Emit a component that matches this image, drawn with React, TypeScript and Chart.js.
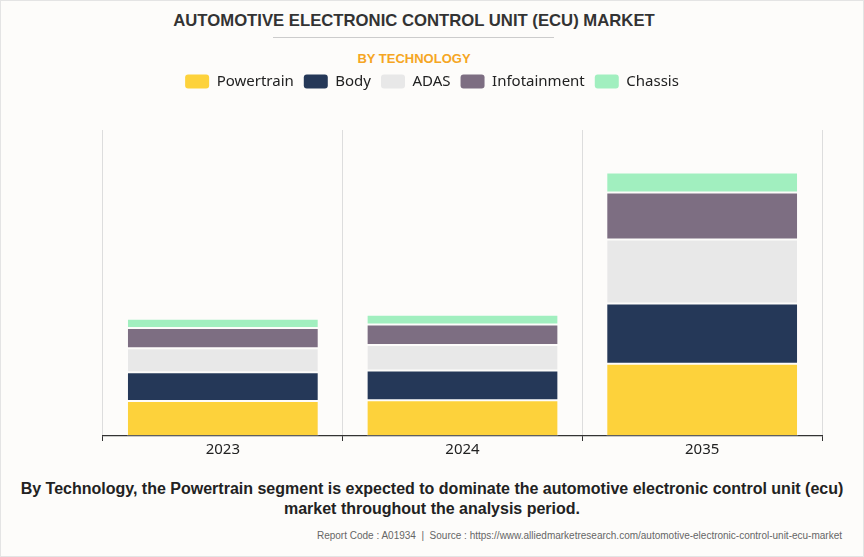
import React, { useEffect, useRef } from "react";
import { Chart, registerables } from "chart.js";

Chart.register(...registerables);

const categories = ["2023", "2024", "2035"];
const segments = ["Powertrain", "Body", "ADAS", "Infotainment", "Chassis"];
const powertrain = [11.4, 11.7, 23.6];
const body = [9.4, 9.7, 19.7];
const adas = [7.9, 8.3, 20.9];
const infotainment = [6.6, 6.7, 15.4];
const chassis = [3.0, 3.2, 6.5];
const colors = ["#fdd23b", "#253858", "#e8e8e8", "#7d6e82", "#a1efbf"];
const yMax = 100;

const TITLE = "AUTOMOTIVE ELECTRONIC CONTROL UNIT (ECU) MARKET";
const SUBTITLE = "BY TECHNOLOGY";
const FOOTNOTE =
  "By Technology, the Powertrain segment is expected to dominate the automotive electronic control unit (ecu) market throughout the analysis period.";
const SOURCE =
  "Report Code : A01934  |  Source : https://www.alliedmarketresearch.com/automotive-electronic-control-unit-ecu-market";

export default function App() {
  const ref = useRef<HTMLCanvasElement | null>(null);

  useEffect(() => {
    if (!ref.current) return;
    const series = [powertrain, body, adas, infotainment, chassis];
    const legendGap = {
      id: "legendGap",
      beforeInit(chart: any) {
        const orig = chart.legend.fit;
        chart.legend.fit = function () {
          orig.call(this);
          this.height += 31;
        };
      },
    };
    const chart = new Chart(ref.current, {
      type: "bar",
      data: {
        labels: categories,
        datasets: segments.map((name, i) => ({
          label: name,
          data: series[i],
          backgroundColor: colors[i],
          borderColor: "rgba(255,255,255,0.22)",
          borderWidth: 1,
          borderSkipped: false,
          categoryPercentage: 1,
          barPercentage: 0.8,
          yAxisID: "y",
        })),
      },
      options: {
        animation: false,
        responsive: true,
        maintainAspectRatio: false,
        layout: { padding: 0 },
        plugins: {
          tooltip: { enabled: false },
          legend: {
            position: "top",
            labels: {
              boxWidth: 24,
              boxHeight: 14,
              useBorderRadius: true,
              borderRadius: 3,
              padding: 10,
              color: "#222",
              font: { family: "'Noto Sans', sans-serif", size: 15 },
              generateLabels: (c: any) =>
                Chart.defaults.plugins.legend.labels
                  .generateLabels(c)
                  .map((l: any) => ({ ...l, lineWidth: 0, strokeStyle: "transparent" })),
            },
          },
        },
        scales: {
          x: {
            stacked: true,
            offset: true,
            grid: {
              display: true,
              color: "#dddddd",
              lineWidth: 1,
              tickColor: "#333",
              tickLength: 5,
              offset: true,
            },
            border: { display: true, color: "#333", width: 1.2 },
            ticks: {
              color: "#222",
              padding: 0,
              font: { family: "'Noto Sans', sans-serif", size: 15 },
            },
          },
          y: {
            stacked: true,
            min: 0,
            max: yMax,
            position: "left",
            grid: { display: false },
            border: { display: false },
            ticks: { display: false },
            afterFit: (axis: any) => {
              axis.width = 102;
            },
          },
          yR: {
            type: "linear",
            position: "right",
            grid: { display: false },
            border: { display: false },
            ticks: { display: false },
            afterFit: (axis: any) => {
              axis.width = 41;
            },
          },
        },
      } as any,
      plugins: [legendGap],
    });
    return () => chart.destroy();
  }, []);

  return (
    <div
      style={{
        position: "fixed",
        left: 0,
        top: 0,
        width: 864,
        height: 557,
        boxSizing: "border-box",
        border: "1px solid #e4e4e4",
        background: "#fdfcfa",
        fontFamily: "'Liberation Sans', Arial, sans-serif",
        overflow: "hidden",
      }}
    >
      <div
        style={{
          position: "absolute",
          left: 0,
          width: 826,
          top: 10,
          textAlign: "center",
          fontWeight: "bold",
          fontSize: 16.7,
          color: "#333",
          lineHeight: "20px",
        }}
      >
        {TITLE}
      </div>
      <div
        style={{
          position: "absolute",
          left: 272,
          width: 281,
          top: 36,
          height: 1,
          background: "#cccccc",
        }}
      />
      <div
        style={{
          position: "absolute",
          left: 0,
          width: 826,
          top: 50,
          textAlign: "center",
          fontWeight: "bold",
          fontSize: 13,
          color: "#f5a623",
          lineHeight: "16px",
        }}
      >
        {SUBTITLE}
      </div>
      <div style={{ position: "absolute", left: 0, top: 63, width: 862, height: 395 }}>
        <canvas ref={ref} />
      </div>
      <div
        style={{
          position: "absolute",
          left: 14,
          width: 834,
          top: 478,
          textAlign: "center",
          fontWeight: "bold",
          fontSize: 16,
          color: "#222",
          lineHeight: "20px",
        }}
      >
        {FOOTNOTE}
      </div>
      <div
        style={{
          position: "absolute",
          right: 21,
          top: 529,
          fontSize: 10,
          color: "#666",
          whiteSpace: "pre",
          lineHeight: "12px",
        }}
      >
        {SOURCE}
      </div>
    </div>
  );
}
